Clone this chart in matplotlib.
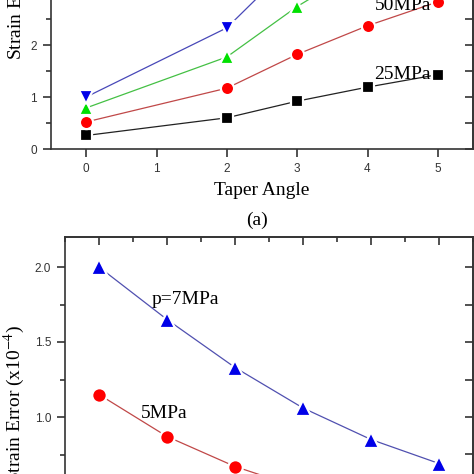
import matplotlib
matplotlib.use("Agg")
import matplotlib.pyplot as plt
from matplotlib.ticker import MultipleLocator

plt.rcParams['font.family'] = ['Liberation Sans', 'DejaVu Sans']
plt.rcParams['mathtext.fontset'] = 'stix'

# panel (a): strain error vs taper angle, several pressures
angle_a = [0, 2, 3, 4, 5]
err_25 = [0.26, 0.60, 0.92, 1.19, 1.43]
err_50 = [0.52, 1.17, 1.82, 2.37, 2.83]
err_75 = [0.79, 1.77, 2.74, 3.56, 4.27]
err_100 = [1.00, 2.33, 3.66, 4.74, 5.70]

# panel (b): strain error vs taper angle, low pressures
angle_b = [0, 1, 2, 3, 4, 5]
err_7 = [2.00, 1.65, 1.33, 1.06, 0.85, 0.69]
err_5 = [1.15, 0.87, 0.67, 0.52, 0.41, 0.34]

W = H = 474
SERIF = 'Liberation Serif'
SPINE = '#333333'


def px(x, y):
    """pixel (from top-left) -> figure fraction"""
    return x / W, 1 - y / H


def add_panel(left, right, top, bottom):
    l, t = px(left, top)
    r, b = px(right, bottom)
    return fig.add_axes([l, b, r - l, t - b])


def style(ax, ymajor, yminor, xminor, top_minor):
    for s in ax.spines.values():
        s.set_color(SPINE)
        s.set_linewidth(1.2)
    ax.xaxis.set_major_locator(MultipleLocator(1))
    ax.yaxis.set_major_locator(MultipleLocator(ymajor))
    ax.yaxis.set_minor_locator(MultipleLocator(yminor))
    if xminor:
        ax.xaxis.set_minor_locator(MultipleLocator(0.5))
    ax.tick_params(which='both', direction='out', colors=SPINE, width=1.2,
                   labelsize=8.5, labelcolor='#333333')
    ax.tick_params(which='major', length=6, pad=4)
    ax.tick_params(which='minor', length=3.5)

    sy = ax.secondary_yaxis('right')
    sy.yaxis.set_major_locator(MultipleLocator(ymajor))
    sy.yaxis.set_minor_locator(MultipleLocator(yminor))
    sy.tick_params(which='both', direction='in', labelright=False, colors=SPINE, width=1.2)
    sy.tick_params(which='major', length=6)
    sy.tick_params(which='minor', length=6)
    sy.spines['right'].set_color(SPINE)
    sy.spines['right'].set_linewidth(1.2)

    sx = ax.secondary_xaxis('top')
    sx.xaxis.set_major_locator(MultipleLocator(1))
    if top_minor:
        sx.xaxis.set_minor_locator(MultipleLocator(0.5))
    sx.tick_params(which='both', direction='in', labeltop=False, colors=SPINE, width=1.2)
    sx.tick_params(which='major', length=6)
    sx.tick_params(which='minor', length=3.5)
    sx.spines['top'].set_color(SPINE)
    sx.spines['top'].set_linewidth(1.2)


def series(ax, x, y, marker, mcolor, lcolor, ms):
    ax.plot(x, y, color=lcolor, lw=0.9, marker=marker, ms=ms,
            mfc=mcolor, mec='white', mew=1.6, zorder=3, clip_on=True)


fig = plt.figure(figsize=(4.74, 4.74), dpi=100)

# ---- panel (a) ----
ax1 = add_panel(51, 473, 149 - 3.5 * 52, 149)
ax1.set_xlim(-0.5, 5.5)
ax1.set_ylim(0, 3.5)
style(ax1, 1, 0.5, False, True)
series(ax1, angle_a, err_25, 's', 'black', '#222222', 8.5)
series(ax1, angle_a, err_50, 'o', '#ff0000', '#c04848', 9.5)
series(ax1, angle_a, err_75, '^', '#00e000', '#44c044', 10)
series(ax1, angle_a, err_100, 'v', '#0000e8', '#4848b8', 10)
ax1.text(4.10, 1.35, '25MPa', family=SERIF, fontsize=14, va='baseline')
ax1.text(4.10, 2.67, '50MPa', family=SERIF, fontsize=14, va='baseline')
ax1.set_xlabel('Taper Angle', family=SERIF, fontsize=14, labelpad=5)

fig.text(*px(15.5, 60), 'Strain Error (x10$^{-4}$)', family=SERIF, fontsize=14,
         rotation=90, ha='center', va='bottom')
fig.text(*px(257, 220), '(a)', family=SERIF, fontsize=14, ha='center', va='center')

# ---- panel (b) ----
ax2 = add_panel(65, 473, 237, 237 + 1.8 * 150)
ax2.set_xlim(-0.5, 5.5)
ax2.set_ylim(0.4, 2.2)
style(ax2, 0.5, 0.25, True, True)
series(ax2, angle_b, err_7, '^', '#0000e8', '#5050b0', 11)
series(ax2, angle_b, err_5, 'o', '#ff0000', '#c04848', 10.5)
ax2.text(0.78, 1.753, 'p=7MPa', family=SERIF, fontsize=14, va='baseline')
ax2.text(0.62, 0.995, '5MPa', family=SERIF, fontsize=14, va='baseline')

fig.text(*px(14, 325), 'Strain Error (x10$^{-4}$)', family=SERIF, fontsize=14,
         rotation=90, ha='center', va='top')

fig.savefig('out.png', dpi=100)
